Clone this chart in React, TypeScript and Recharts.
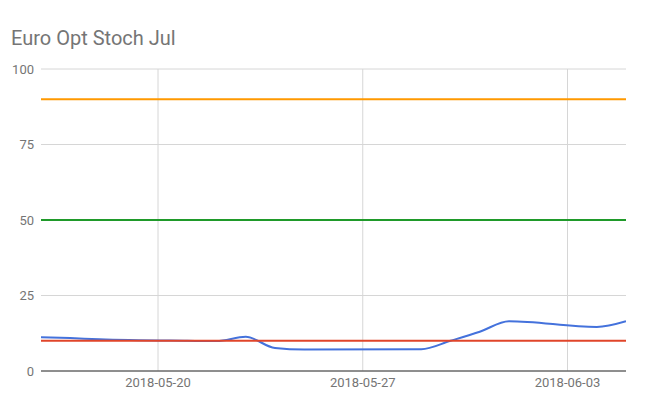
import React from "react";
import { LineChart, Line, XAxis, YAxis, CartesianGrid } from "recharts";

const dates = [
  "2018-05-16", "2018-05-17", "2018-05-18", "2018-05-21", "2018-05-22",
  "2018-05-23", "2018-05-24", "2018-05-25", "2018-05-29", "2018-05-30",
  "2018-05-31", "2018-06-01", "2018-06-04", "2018-06-05",
];
const stoch = [11.2, 10.9, 10.5, 10.0, 9.9, 11.3, 7.6, 7.1, 7.2, 10.0, 13.0, 16.5, 14.6, 16.5];
const upperLevel = 90;
const midLevel = 50;
const lowerLevel = 10;
const xTickDates = ["2018-05-20", "2018-05-27", "2018-06-03"];
const yTicks = [0, 25, 50, 75, 100];
const title = "Euro Opt Stoch Jul";

const toT = (d: string) => Date.parse(d + "T00:00:00Z");

const data = dates.map((d, i) => ({
  t: toT(d),
  stoch: stoch[i],
  upper: upperLevel,
  mid: midLevel,
  lower: lowerLevel,
}));

const fmt = (t: number) => new Date(t).toISOString().slice(0, 10);
const t0 = toT(dates[0]);
const t1 = toT(dates[dates.length - 1]);

export default function App() {
  const font = "Roboto, 'Noto Sans', sans-serif";
  return (
    <div style={{ position: "absolute", left: 0, top: 0, width: 652, height: 404, background: "#fff" }}>
      <div
        style={{
          position: "absolute",
          left: 11,
          top: 28,
          fontFamily: font,
          fontSize: 20,
          lineHeight: "20px",
          color: "#757575",
          whiteSpace: "nowrap",
        }}
      >
        {title}
      </div>
      <LineChart
        width={652}
        height={404}
        data={data}
        margin={{ top: 69, right: 26, bottom: 3, left: 11 }}
      >
        <CartesianGrid
          stroke="#d6d6d6"
          strokeWidth={1}
          verticalCoordinatesGenerator={({ offset }: any) =>
            xTickDates.map((d) => offset.left + ((toT(d) - t0) / (t1 - t0)) * offset.width)
          }
        />
        <XAxis
          dataKey="t"
          type="number"
          scale="time"
          domain={[t0, t1]}
          ticks={xTickDates.map(toT)}
          tickFormatter={fmt}
          tickLine={false}
          axisLine={{ stroke: "#333333", strokeWidth: 1 }}
          tickMargin={1}
          height={30}
          tick={{ fill: "#757575", fontSize: 13, fontFamily: font }}
          allowDataOverflow
        />
        <YAxis
          type="number"
          domain={[0, 100]}
          ticks={yTicks}
          tickLine={false}
          axisLine={false}
          tickMargin={1}
          width={30}
          tick={{ fill: "#757575", fontSize: 13, fontFamily: font }}
        />
        <Line type="monotone" dataKey="stoch" stroke="#4472dc" strokeWidth={2} dot={false} isAnimationActive={false} />
        <Line type="linear" dataKey="upper" stroke="#ff9900" strokeWidth={2} dot={false} isAnimationActive={false} />
        <Line type="linear" dataKey="mid" stroke="#1f9a2a" strokeWidth={2} dot={false} isAnimationActive={false} />
        <Line type="linear" dataKey="lower" stroke="#e0452a" strokeWidth={2} dot={false} isAnimationActive={false} />
      </LineChart>
    </div>
  );
}
